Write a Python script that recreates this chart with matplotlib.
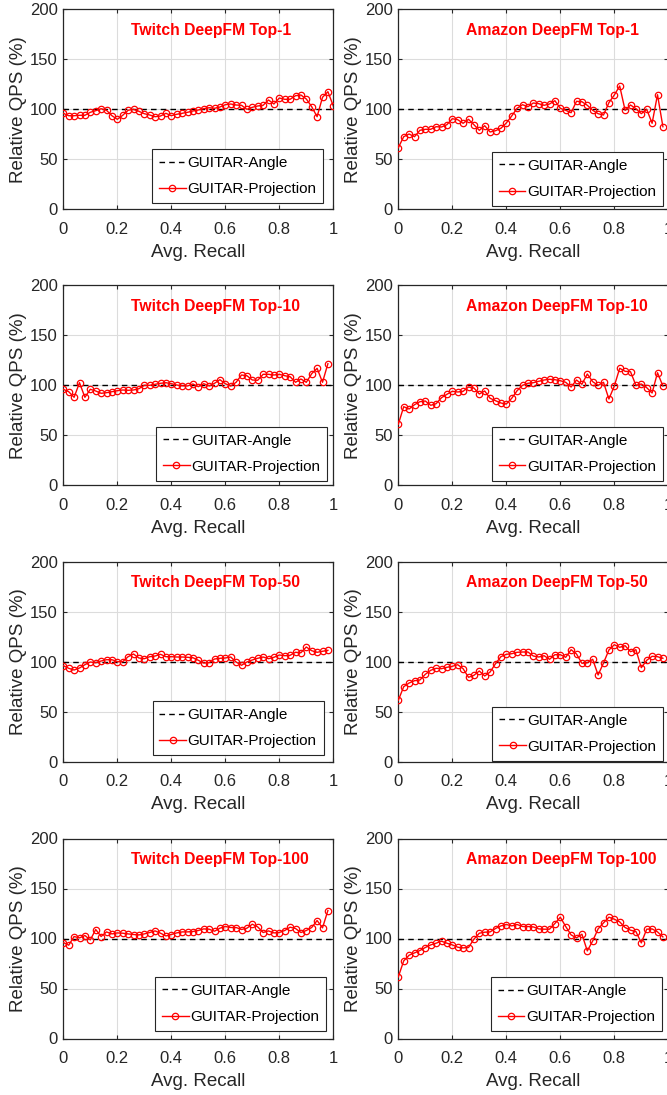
import matplotlib
matplotlib.use("Agg")
import matplotlib.pyplot as plt

plt.rcParams['font.family'] = ['Liberation Sans', 'DejaVu Sans']

# ---------------- data ----------------
RECALL = [0.00, 0.02, 0.04, 0.06, 0.08, 0.10, 0.12, 0.14, 0.16, 0.18,
          0.20, 0.22, 0.24, 0.26, 0.28, 0.30, 0.32, 0.34, 0.36, 0.38,
          0.40, 0.42, 0.44, 0.46, 0.48, 0.50, 0.52, 0.54, 0.56, 0.58,
          0.60, 0.62, 0.64, 0.66, 0.68, 0.70, 0.72, 0.74, 0.76, 0.78,
          0.80, 0.82, 0.84, 0.86, 0.88, 0.90, 0.92, 0.94, 0.96, 0.98,
          1.00]

titles = ["Twitch DeepFM Top-1", "Amazon DeepFM Top-1",
          "Twitch DeepFM Top-10", "Amazon DeepFM Top-10",
          "Twitch DeepFM Top-50", "Amazon DeepFM Top-50",
          "Twitch DeepFM Top-100", "Amazon DeepFM Top-100"]

twitch_top1 = [96, 93.6, 93.6, 94, 94, 97, 98.6, 100.6, 99, 93.6,
               90, 94, 99, 100, 98, 95.6, 94.3, 92.6, 93.3, 96,
               93.6, 95, 96, 97, 98.3, 99.3, 100.6, 101.6, 101, 102.3,
               104.6, 105.3, 104.3, 104, 100, 102, 103.3, 104, 109.3, 105.3,
               111.3, 110, 110, 113.6, 114.3, 110.3, 102.6, 92.6, 112, 117.6,
               103.3]
amazon_top1 = [61.6, 72.6, 75.3, 72.6, 79, 80, 80, 82.6, 82.3, 84.6,
               90.6, 89.6, 86, 90, 84.6, 79, 83.6, 77.3, 78.6, 81,
               86.3, 93.3, 101, 104.6, 102.6, 106.3, 105.6, 104, 105.3, 108.6,
               101, 99, 96.6, 108, 107.6, 104, 99, 95.6, 94.3, 106.6,
               114.3, 123.3, 99, 104.3, 100.6, 95.6, 100, 86, 114.6, 82.6]
twitch_top10 = [96.2, 93.8, 88.2, 102.8, 88.2, 96.2, 94.5, 92.2, 92.8, 93.8,
                94.8, 95.5, 95.2, 95.5, 96.8, 100.2, 100.2, 101.2, 102.2, 102.8,
                101.8, 100.5, 99.8, 99.5, 101.5, 98.8, 101.8, 99.5, 102.2, 105.8,
                101.8, 99.5, 103.2, 110.5, 109.8, 105.5, 105.2, 111.2, 111.2, 110.5,
                111.2, 109.8, 108.8, 103.2, 106.5, 103.2, 111.8, 117.2, 103.2, 121.8]
amazon_top10 = [61.2, 78.8, 76.5, 80.8, 83.8, 84.5, 80.2, 81.8, 87.8, 91.2,
                94.2, 93.5, 94.2, 98.5, 97.5, 91.5, 94.5, 87.2, 84.8, 82.5,
                81.5, 87.2, 94.8, 100.2, 102.2, 102.8, 104.2, 105.5, 106.2, 105.8,
                104.8, 103.2, 98.5, 105.5, 101.2, 111.5, 103.8, 100.2, 103.2, 86.5,
                99.5, 117.2, 114.2, 113.8, 100.2, 101.5, 97.8, 92.5, 112.8, 99.5]
twitch_top50 = [96.3, 93.7, 92, 94, 97.3, 100, 99.3, 101, 102.3, 102.3,
                100.3, 100.3, 105.3, 108, 104, 103.3, 105.3, 106, 107.7, 105.3,
                105.3, 105, 105, 104.7, 104.3, 101.7, 99, 99.3, 103, 103.7,
                104, 105, 100, 96.7, 100, 102, 103.7, 105, 103.3, 104.7,
                107, 106.3, 106.7, 109.7, 109.3, 115, 111.3, 109.7, 110.7, 111.7]
amazon_top50 = [61.7, 75.3, 79, 81.3, 82, 87.7, 91.7, 93.7, 93.3, 94.7,
                95.7, 97.3, 93.3, 84.7, 86.7, 91, 86, 90, 98.3, 105.3,
                107.7, 108.3, 109.7, 110, 110, 106, 105, 106.3, 102.7, 107.3,
                107.3, 104.7, 112.3, 108, 98.7, 99.3, 102.7, 87, 99, 112,
                117.3, 114.7, 116.3, 110.3, 112.3, 94.3, 101.7, 105.7, 105.3, 103.7]
twitch_top100 = [96, 93.3, 102, 100.6, 103, 98.6, 109, 102, 106.6, 104.6,
                 105.6, 105.3, 104.6, 104, 103.6, 104.6, 106, 107.6, 105.3, 102.6,
                 104, 105.6, 106.6, 106.6, 107, 108, 109.6, 109.3, 107.3, 110.3,
                 112, 111, 111, 109, 110.3, 114.3, 111.6, 106, 107.6, 105.6,
                 106, 108, 111.3, 110, 106, 108, 111, 118, 110.6, 128]
amazon_top100 = [61.6, 77.6, 83.3, 85.6, 88, 91, 93.6, 95.3, 97.3, 95.3,
                 93.6, 91.3, 90.6, 91, 99.3, 105.3, 106.3, 106.6, 110, 112.6,
                 114, 112.6, 114, 112, 112, 111.6, 109.6, 109.3, 109.3, 115,
                 121.3, 112, 103.6, 100.6, 104.3, 87.6, 97.6, 109.6, 115.6, 121.3,
                 119.3, 116.6, 111, 108.3, 107, 95.6, 109.3, 109.6, 106.6, 101.6]

series = [twitch_top1, amazon_top1, twitch_top10, amazon_top10,
          twitch_top50, amazon_top50, twitch_top100, amazon_top100]

baseline = 100
x_ticks = [0, 0.2, 0.4, 0.6, 0.8, 1.0]
x_ticklabels = ["0", "0.2", "0.4", "0.6", "0.8", "1"]
y_ticks = [0, 50, 100, 150, 200]
y_ticklabels = ["0", "50", "100", "150", "200"]

# ---------------- layout ----------------
W, H = 667, 1095
fig = plt.figure(figsize=(W / 100, H / 100), dpi=100)

col_left = [63.3, 398.3]
col_width = [270.0, 270.0]
row_bottom = [209.3, 485.5, 762.0, 1038.5]
ax_h = 200.0

legend_anchor = [(0.962, 0.030), (0.980, 0.017),
                 (0.977, 0.024), (0.980, 0.024),
                 (0.964, 0.035), (0.982, 0.007),
                 (0.973, 0.038), (0.976, 0.036)]

spine_col = '#262626'
for i in range(8):
    r, c = divmod(i, 2)
    left = col_left[c] / W
    bottom = 1 - row_bottom[r] / H
    ax = fig.add_axes([left, bottom, col_width[c] / W, ax_h / H])
    y = series[i]
    x = RECALL[:len(y)]
    ax.plot([0, 1], [baseline, baseline], ls=(0, (4, 3)), color='black', lw=1.0,
            label='GUITAR-Angle', zorder=3)
    ax.plot(x, y, color='red', lw=1.0, marker='o', ms=4.6, mfc='none', mec='red',
            mew=0.9, label='GUITAR-Projection', zorder=4)
    ax.set_xlim(0, 1)
    ax.set_ylim(0, 200)
    ax.set_xticks(x_ticks)
    ax.set_xticklabels(x_ticklabels)
    ax.set_yticks(y_ticks)
    ax.set_yticklabels(y_ticklabels)
    ax.grid(True, color='#dcdcdc', lw=0.8)
    ax.set_axisbelow(True)
    ax.tick_params(direction='in', length=3, width=0.8, colors=spine_col,
                   labelsize=12, labelcolor='#262626', top=True, right=True)
    ax.tick_params(axis='x', pad=9)
    ax.tick_params(axis='y', pad=4)
    for s in ax.spines.values():
        s.set_color(spine_col)
        s.set_linewidth(0.9)
    ax.set_xlabel('Avg. Recall', fontsize=13.5, color='#262626', labelpad=5)
    ax.set_ylabel('Relative QPS (%)', fontsize=13.5, color='#262626', labelpad=2)
    ax.text(0.25, 0.895, titles[i], transform=ax.transAxes, color='red',
            fontsize=11.3, fontweight='bold', ha='left', va='center')
    leg = ax.legend(loc='lower right', bbox_to_anchor=legend_anchor[i],
                    borderaxespad=0, fontsize=11, frameon=True, fancybox=False,
                    handlelength=1.75, handletextpad=0.1, borderpad=0.45,
                    labelspacing=0.8)
    leg.get_frame().set_edgecolor('#262626')
    leg.get_frame().set_linewidth(0.8)
    leg.get_frame().set_alpha(1.0)

fig.savefig('out.png', dpi=100)
